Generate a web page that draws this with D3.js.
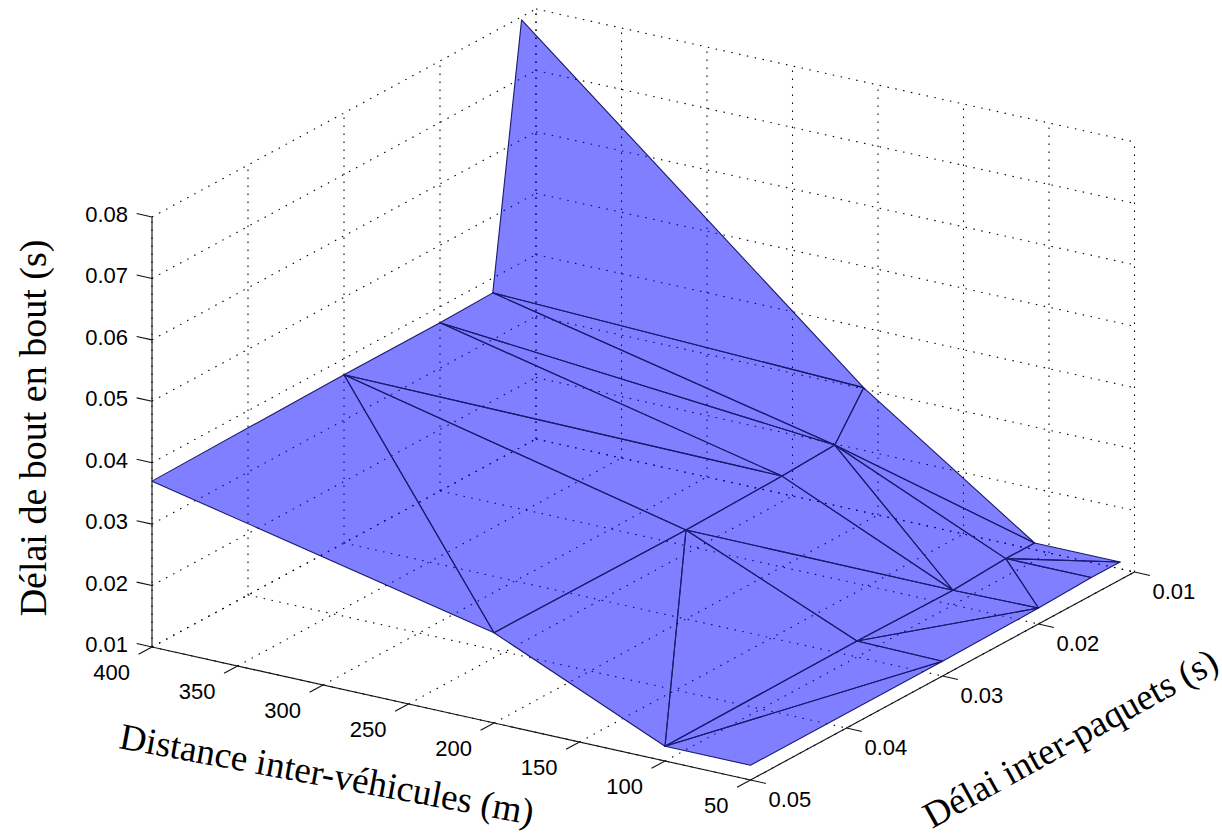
<!DOCTYPE html>
<html>
<head>
<meta charset="utf-8">
<script src="https://cdn.jsdelivr.net/npm/d3@7"></script>
<style>
  html, body { margin: 0; padding: 0; background: #fff; }
  svg { display: block; }
</style>
</head>
<body>
<div id="chart"></div>
<script>
// values
var distances = [400, 200, 100, 50];
var delays = [0.05, 0.03, 0.02, 0.0145, 0.0115];
// one row per delay, one column per distance
var delay005 = [0.0370, 0.0247, 0.0124, 0.0124];
var delay003 = [0.0374, 0.0245, 0.0126, 0.0124];
var delay002 = [0.0374, 0.0248, 0.0124, 0.0126];
var delay00145 = [0.0376, 0.0252, 0.0129, 0.0129];
var delay00115 = [0.0795, 0.0320, 0.0129, 0.0129];
var rows = [delay005, delay003, delay002, delay00145, delay00115];

// triangles of the surface, vertex number = delay index * 4 + distance index
var triangles = [
  [0,1,4],[4,1,5],[4,5,9],[4,9,8],[8,9,13],[8,13,12],[12,13,17],[12,17,16],
  [1,2,5],[5,2,6],[5,6,10],[5,10,9],[9,10,13],[13,10,14],[13,14,18],[13,18,17],
  [2,3,7],[2,7,6],[6,7,11],[6,11,10],[10,11,14],[14,11,15],[14,15,19],[14,19,18]
];

var distTicks = [400, 350, 300, 250, 200, 150, 100, 50];
var delayTicks = [0.05, 0.04, 0.03, 0.02, 0.01];
var zTicks = [0.01, 0.02, 0.03, 0.04, 0.05, 0.06, 0.07, 0.08];

var width = 1222,
  height = 835;

var svg = d3.select("#chart")
  .append("svg")
  .attr("width", width)
  .attr("height", height);

// oblique view: each data axis moves the point along its own screen direction
var distX = d3.scaleLinear().domain([400, 50]).range([152, 750.5]);
var distY = d3.scaleLinear().domain([400, 50]).range([647, 780]);
var delayX = d3.scaleLinear().domain([0.05, 0.01]).range([0, 384]);
var delayY = d3.scaleLinear().domain([0.05, 0.01]).range([0, -208]);
var zY = d3.scaleLinear().domain([0.01, 0.08]).range([0, -430]);

function project(d, t, z) {
  return [distX(d) + delayX(t), distY(d) + delayY(t) + zY(z)];
}

var line = d3.line();

// walls and floor, dotted
var gridLines = [];
zTicks.forEach(function (z) {
  gridLines.push([project(400, 0.05, z), project(400, 0.01, z)]);
  gridLines.push([project(400, 0.01, z), project(50, 0.01, z)]);
});
delayTicks.forEach(function (t) {
  gridLines.push([project(400, t, 0.01), project(400, t, 0.08)]);
  gridLines.push([project(400, t, 0.01), project(50, t, 0.01)]);
});
distTicks.forEach(function (d) {
  gridLines.push([project(d, 0.01, 0.01), project(d, 0.01, 0.08)]);
  gridLines.push([project(d, 0.05, 0.01), project(d, 0.01, 0.01)]);
});

svg.append("g").selectAll("path")
  .data(gridLines)
  .enter().append("path")
  .attr("d", line)
  .attr("fill", "none")
  .attr("stroke", "#000")
  .attr("stroke-width", 1.1)
  .attr("stroke-dasharray", "1.5 6.5");

// surface
var vertices = [];
delays.forEach(function (t, i) {
  distances.forEach(function (d, j) {
    vertices.push(project(d, t, rows[i][j]));
  });
});

var facePath = triangles.map(function (tri) {
  var p = [vertices[tri[0]], vertices[tri[1]], vertices[tri[2]]];
  // keep all triangles turning the same way so the shared path fills without holes
  var turn = (p[1][0] - p[0][0]) * (p[2][1] - p[0][1]) - (p[1][1] - p[0][1]) * (p[2][0] - p[0][0]);
  if (turn < 0) p.reverse();
  return line(p) + "Z";
}).join("");

svg.append("path")
  .attr("d", facePath)
  .attr("fill", "#0000ff")
  .attr("fill-opacity", 0.5)
  .attr("fill-rule", "nonzero");

svg.append("g").selectAll("path")
  .data(triangles)
  .enter().append("path")
  .attr("d", function (tri) {
    return line([vertices[tri[0]], vertices[tri[1]], vertices[tri[2]]]) + "Z";
  })
  .attr("fill", "none")
  .attr("stroke", "#1a1a6e")
  .attr("stroke-width", 1.1)
  .attr("stroke-linejoin", "round");

// axis lines
var axes = svg.append("g").attr("stroke", "#111").attr("stroke-width", 1.1).attr("fill", "none");
axes.append("path").attr("d", line([project(400, 0.05, 0.01), project(400, 0.05, 0.08)]));
axes.append("path").attr("d", line([project(400, 0.05, 0.01), project(50, 0.05, 0.01)]));
axes.append("path").attr("d", line([project(50, 0.05, 0.01), project(50, 0.01, 0.01)]));

zTicks.forEach(function (z) {
  axes.append("path").attr("d", line([project(400, 0.05, z), project(409, 0.05, z)]));
});
distTicks.forEach(function (d) {
  axes.append("path").attr("d", line([project(d, 0.05, 0.01), project(d, 0.0514, 0.01)]));
});
delayTicks.forEach(function (t) {
  axes.append("path").attr("d", line([project(50, t, 0.01), project(41, t, 0.01)]));
});

// tick labels
var tickFont = '"Liberation Sans", Arial, sans-serif';

svg.append("g").selectAll("text")
  .data(zTicks)
  .enter().append("text")
  .text(function (z) { return z.toFixed(2); })
  .attr("x", function (z) { return project(400, 0.05, z)[0] - 24; })
  .attr("y", function (z) { return project(400, 0.05, z)[1] + 5; })
  .attr("text-anchor", "end")
  .style("font-family", tickFont)
  .style("font-size", "22px");

svg.append("g").selectAll("text")
  .data(distTicks)
  .enter().append("text")
  .text(function (d) { return d; })
  .attr("x", function (d) { return project(d, 0.05, 0.01)[0] - 22; })
  .attr("y", function (d) { return project(d, 0.05, 0.01)[1] + 33; })
  .attr("text-anchor", "end")
  .style("font-family", tickFont)
  .style("font-size", "22px");

svg.append("g").selectAll("text")
  .data(delayTicks)
  .enter().append("text")
  .text(function (t) { return t.toFixed(2); })
  .attr("x", function (t) { return project(50, t, 0.01)[0] + 18; })
  .attr("y", function (t) { return project(50, t, 0.01)[1] + 27; })
  .style("font-family", tickFont)
  .style("font-size", "22px");

// axis titles
var titleFont = '"Liberation Serif", "Times New Roman", serif';

svg.append("text")
  .text("Délai de bout en bout (s)")
  .attr("transform", "translate(46,428) rotate(-90)")
  .attr("text-anchor", "middle")
  .style("font-family", titleFont)
  .style("font-size", "38px");

svg.append("text")
  .text("Distance inter-véhicules (m)")
  .attr("transform", "translate(118,748) rotate(10.5)")
  .style("font-family", titleFont)
  .style("font-size", "37px");

svg.append("text")
  .text("Délai inter-paquets (s)")
  .attr("transform", "translate(932,829) rotate(-29)")
  .style("font-family", titleFont)
  .style("font-size", "37px");
</script>
</body>
</html>
